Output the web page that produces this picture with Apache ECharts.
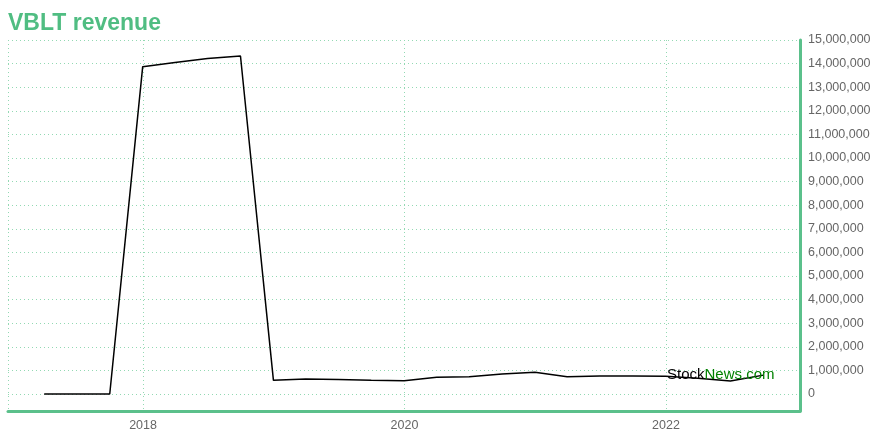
<!DOCTYPE html>
<html>
<head>
<meta charset="utf-8">
<script src="https://cdn.jsdelivr.net/npm/echarts@6/dist/echarts.min.js"></script>
<style>html,body{margin:0;padding:0;background:#fff;}#chart{width:880px;height:440px;}</style>
</head>
<body>
<div id="chart"></div>
<script>
const titleText = 'VBLT revenue';
const dates = ['2017-03-31','2017-06-30','2017-09-30','2017-12-31','2018-03-31','2018-06-30','2018-09-30','2018-12-31','2019-03-31','2019-06-30','2019-09-30','2019-12-31','2020-03-31','2020-06-30','2020-09-30','2020-12-31','2021-03-31','2021-06-30','2021-09-30','2021-12-31','2022-03-31','2022-06-30','2022-09-30'];
const revenue = [0,0,0,13870000,14050000,14220000,14320000,580000,640000,610000,580000,560000,710000,730000,850000,920000,730000,760000,760000,750000,670000,550000,800000];
const xRange = [2016.967, 2023.025];
const yRange = [-720000, 15000000];

function toYear(s) {
  const p = s.split('-').map(Number);
  const t = Date.UTC(p[0], p[1]-1, p[2]);
  const a = Date.UTC(p[0], 0, 1), b = Date.UTC(p[0]+1, 0, 1);
  return p[0] + (t - a) / (b - a);
}
const seriesData = dates.map((d, i) => [toYear(d), revenue[i]]);

const green = '#5bc08b';
const gridColor = '#93d9b3';
const chart = echarts.init(document.getElementById('chart'), null, {renderer: 'canvas'});
chart.setOption({
  animation: false,
  backgroundColor: '#fff',
  title: {
    text: titleText, left: 8, top: 12, padding: 0,
    textStyle: {color: '#50bd82', fontSize: 23, fontWeight: 'bold', fontFamily: 'Liberation Sans, Arial, sans-serif'}
  },
  grid: {left: 8, right: 80, top: 40, bottom: 29, containLabel: false},
  xAxis: {
    type: 'value', min: xRange[0], max: xRange[1], splitNumber: 3,
    axisLine: {show: true, onZero: false, lineStyle: {color: green, width: 3}},
    axisTick: {show: false},
    axisLabel: {color: '#666', fontSize: 12.5, fontFamily: 'Liberation Sans, Arial, sans-serif', margin: 8,
      showMinLabel: false, showMaxLabel: false, formatter: v => String(Math.round(v))},
    splitLine: {show: true, lineStyle: {color: gridColor, type: [1, 3], width: 1}}
  },
  yAxis: {
    type: 'value', position: 'right', min: yRange[0], max: yRange[1], splitNumber: 15,
    minInterval: 1000000, maxInterval: 1000000,
    axisLine: {show: true, onZero: false, lineStyle: {color: green, width: 3}},
    axisTick: {show: false},
    axisLabel: {color: '#666', fontSize: 12.5, fontFamily: 'Liberation Sans, Arial, sans-serif', margin: 8,
      showMinLabel: false, formatter: v => Math.round(v).toLocaleString('en-US')},
    splitLine: {show: true, lineStyle: {color: gridColor, type: [1, 3], width: 1}}
  },
  series: [{
    type: 'line', data: seriesData, showSymbol: false, symbol: 'none',
    lineStyle: {color: '#000', width: 1.5}, z: 3
  }],
  graphic: [{
    type: 'text', left: 667, top: 367, z: 10,
    style: {
      text: '{a|Stock}{b|News.com}',
      rich: {
        a: {fill: '#000', fontSize: 15, fontFamily: 'Liberation Sans, Arial, sans-serif'},
        b: {fill: '#008000', fontSize: 15, fontFamily: 'Liberation Sans, Arial, sans-serif'}
      }
    }
  }]
});
</script>
</body>
</html>
